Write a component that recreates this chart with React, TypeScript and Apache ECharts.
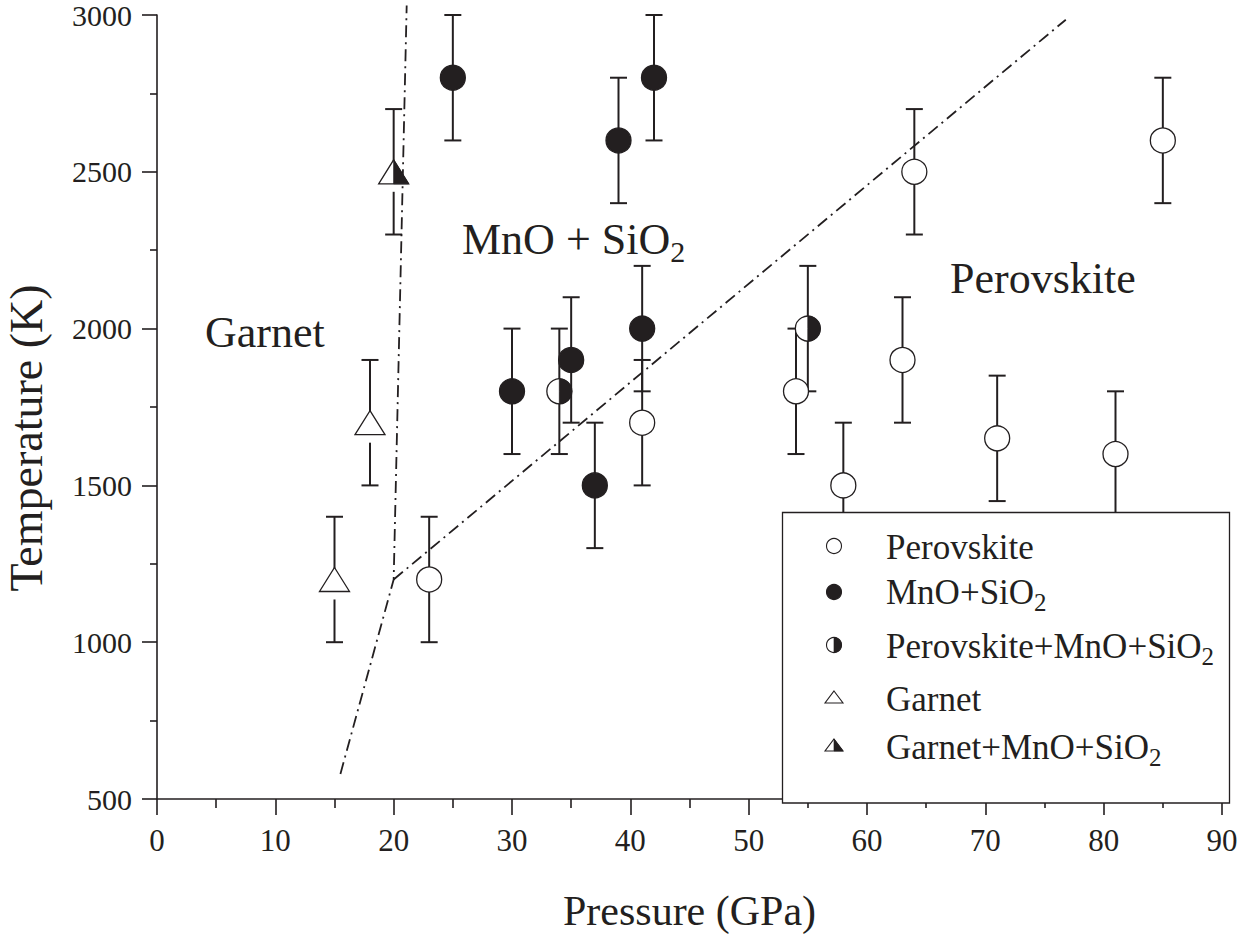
import React, { useEffect, useRef } from 'react';
import * as echarts from 'echarts';

// ---------------- data ----------------
const perovskitePressure = [23, 41, 54, 58, 63, 64, 71, 81, 85];
const perovskiteTemp = [1200, 1700, 1800, 1500, 1900, 2500, 1650, 1600, 2600];
const perovskiteErr = [200, 200, 200, 200, 200, 200, 200, 200, 200];

const mnoPressure = [25, 30, 35, 37, 39, 41, 42];
const mnoTemp = [2800, 1800, 1900, 1500, 2600, 2000, 2800];
const mnoErr = [200, 200, 200, 200, 200, 200, 200];

const mixPressure = [34, 55];
const mixTemp = [1800, 2000];
const mixErr = [200, 200];

const garnetPressure = [15, 18];
const garnetTemp = [1200, 1700];
const garnetErr = [200, 200];

const garnetMixPressure = [20];
const garnetMixTemp = [2500];
const garnetMixErr = [200];

// phase boundaries [pressure, temperature]
const boundaryGarnet = [[15.5, 580], [20, 1200], [21.1, 3030]];
const boundaryPerovskite = [[20, 1200], [76.8, 2985]];

const xTickLabels = ['0', '10', '20', '30', '40', '50', '60', '70', '80', '90'];
const yTickLabels = ['500', '1000', '1500', '2000', '2500', '3000'];

// ---------------- style ----------------
const INK = '#231f20';
const FONT = '"Liberation Serif", "Times New Roman", serif';

const rows = (p: number[], t: number[], e: number[]) => p.map((x, i) => [x, t[i], e[i]]);

type Kind = 'open' | 'filled' | 'half' | 'tri' | 'halftri';

function markerShapes(kind: Kind, cx: number, cy: number, r: number, tw: number, th: number, lw: number, withGap: boolean, z?: number) {
  const stroke = { stroke: INK, lineWidth: lw };
  const zz = z === undefined ? {} : { z };
  const out: any[] = [];
  if (kind === 'open' || kind === 'filled' || kind === 'half') {
    out.push({ type: 'circle', ...zz, shape: { cx, cy, r }, style: { ...stroke, fill: kind === 'filled' ? INK : '#fff' } });
    if (kind === 'half') {
      out.push({
        type: 'sector', ...zz,
        shape: { cx, cy, r, r0: 0, startAngle: -Math.PI / 2, endAngle: Math.PI / 2, clockwise: true },
        style: { fill: INK, stroke: INK, lineWidth: lw * 0.6 },
      });
    }
  } else {
    const top = cy - th / 2;
    const bot = cy + th / 2;
    if (withGap) {
      out.push({ type: 'rect', ...zz, shape: { x: cx - 3, y: bot, width: 6, height: 8 }, style: { fill: '#fff' } });
    }
    out.push({
      type: 'polygon', ...zz,
      shape: { points: [[cx, top], [cx + tw / 2, bot], [cx - tw / 2, bot]] },
      style: { ...stroke, fill: '#fff' },
    });
    if (kind === 'halftri') {
      out.push({
        type: 'polygon', ...zz,
        shape: { points: [[cx, top], [cx + tw / 2, bot], [cx, bot]] },
        style: { fill: INK, stroke: INK, lineWidth: lw * 0.6 },
      });
    }
  }
  return out;
}

function errorSeries(name: string, data: number[][]) {
  return {
    type: 'custom',
    name: name + ' error',
    coordinateSystem: 'cartesian2d',
    z: 2,
    silent: true,
    data,
    encode: { x: 0, y: 1 },
    renderItem: (_p: any, api: any) => {
      const x = api.value(0);
      const y = api.value(1);
      const e = api.value(2);
      const a = api.coord([x, y + e]);
      const b = api.coord([x, y - e]);
      const cap = 8.5;
      const st = { stroke: INK, lineWidth: 2 };
      return {
        type: 'group',
        children: [
          { type: 'line', shape: { x1: a[0], y1: a[1], x2: b[0], y2: b[1] }, style: st },
          { type: 'line', shape: { x1: a[0] - cap, y1: a[1], x2: a[0] + cap, y2: a[1] }, style: st },
          { type: 'line', shape: { x1: b[0] - cap, y1: b[1], x2: b[0] + cap, y2: b[1] }, style: st },
        ],
      };
    },
  };
}

function markerSeries(name: string, data: number[][], kind: Kind) {
  return {
    type: 'custom',
    name,
    coordinateSystem: 'cartesian2d',
    z: 4,
    silent: true,
    data,
    encode: { x: 0, y: 1 },
    renderItem: (_p: any, api: any) => {
      const c = api.coord([api.value(0), api.value(1)]);
      return { type: 'group', children: markerShapes(kind, c[0], c[1], 12.5, 30, 24, 1.3, true) };
    },
  };
}

function boundarySeries(name: string, data: number[][]) {
  return {
    type: 'line',
    name,
    data,
    z: 3,
    clip: false,
    symbol: 'none',
    silent: true,
    lineStyle: { color: INK, width: 1.8, type: [12, 5, 2, 5] },
  };
}

// ---------------- legend (drawn) ----------------
const legendIconX = 834;
const legendTextX = 886;
const legendEntries: { kind: Kind; text: string; iconY: number; baseline: number }[] = [
  { kind: 'open', text: '{m|Perovskite}', iconY: 546, baseline: 558 },
  { kind: 'filled', text: '{m|MnO+SiO}{s|2}', iconY: 592, baseline: 603 },
  { kind: 'half', text: '{m|Perovskite+MnO+SiO}{s|2}', iconY: 645, baseline: 657 },
  { kind: 'tri', text: '{m|Garnet}', iconY: 697, baseline: 710 },
  { kind: 'halftri', text: '{m|Garnet+MnO+SiO}{s|2}', iconY: 745, baseline: 758 },
];

const legendRich = {
  m: { fontSize: 35, lineHeight: 35, fontFamily: FONT, fill: INK, verticalAlign: 'top' },
  s: { fontSize: 25, fontFamily: FONT, fill: INK, verticalAlign: 'bottom', padding: [15, 0, 0, 0] },
};

const annotRich = {
  m: { fontSize: 44, lineHeight: 44, fontFamily: FONT, fill: INK, verticalAlign: 'top' },
  s: { fontSize: 30, fontFamily: FONT, fill: INK, verticalAlign: 'bottom', padding: [19, 0, 0, 0] },
};

function buildGraphic() {
  const g: any[] = [];
  g.push({
    type: 'rect', z: 100,
    shape: { x: 782.5, y: 512.5, width: 447, height: 290.5 },
    style: { fill: '#fff', stroke: INK, lineWidth: 1.3 },
  });
  legendEntries.forEach((en) => {
    markerShapes(en.kind, legendIconX, en.iconY, 7.5, 18, 12, 1.1, false, 101).forEach((s) => g.push(s));
    g.push({
      type: 'text', z: 101,
      style: {
        text: en.text, x: legendTextX, y: en.baseline - 28,
        align: 'left', verticalAlign: 'top', rich: legendRich, fontFamily: FONT, fill: INK,
      },
    });
  });
  // region annotations
  g.push({
    type: 'text', z: 50,
    style: { text: '{m|MnO + SiO}{s|2}', x: 462, y: 253 - 35.4, align: 'left', verticalAlign: 'top', rich: annotRich, fontFamily: FONT, fill: INK },
  });
  g.push({
    type: 'text', z: 50,
    style: { text: 'Perovskite', x: 950, y: 278, align: 'left', verticalAlign: 'middle', fontSize: 44, fontFamily: FONT, fill: INK },
  });
  g.push({
    type: 'text', z: 50,
    style: { text: 'Garnet', x: 205, y: 332, align: 'left', verticalAlign: 'middle', fontSize: 44, fontFamily: FONT, fill: INK },
  });
  // y axis title
  g.push({
    type: 'text', z: 50, x: 26, y: 438, rotation: Math.PI / 2,
    style: { text: 'Temperature (K)', x: 0, y: 0, align: 'center', verticalAlign: 'middle', fontSize: 46, fontFamily: FONT, fill: INK },
  });
  return g;
}

const axisCommon = {
  type: 'value',
  axisLine: { show: true, lineStyle: { color: INK, width: 1.6 } },
  splitLine: { show: false },
  minorSplitLine: { show: false },
};

const option: any = {
  animation: false,
  backgroundColor: '#fff',
  textStyle: { fontFamily: FONT, color: INK },
  grid: { left: 157, top: 15, width: 1065, height: 788, containLabel: false },
  xAxis: {
    ...axisCommon,
    min: 0,
    max: 90,
    interval: 10,
    axisTick: { show: true, inside: false, length: 16, lineStyle: { color: INK, width: 1.6 } },
    minorTick: { show: true, splitNumber: 2, length: 9, lineStyle: { color: INK, width: 1.6 } },
    axisLabel: {
      fontSize: 31, fontFamily: FONT, color: INK, margin: 26,
      formatter: (v: number) => xTickLabels[Math.round(v / 10)] ?? String(v),
    },
    name: 'Pressure (GPa)',
    nameLocation: 'middle',
    nameGap: 112,
    nameTextStyle: { fontSize: 42, fontFamily: FONT, color: INK, verticalAlign: 'middle' },
  },
  yAxis: {
    ...axisCommon,
    min: 500,
    max: 3000,
    interval: 500,
    axisTick: { show: true, inside: false, length: 15, lineStyle: { color: INK, width: 1.6 } },
    minorTick: { show: true, splitNumber: 2, length: 7, lineStyle: { color: INK, width: 1.6 } },
    axisLabel: {
      fontSize: 30, fontFamily: FONT, color: INK, margin: 25,
      formatter: (v: number) => yTickLabels[Math.round((v - 500) / 500)] ?? String(v),
    },
  },
  series: [
    boundarySeries('Garnet boundary', boundaryGarnet),
    boundarySeries('Perovskite boundary', boundaryPerovskite),
    errorSeries('Perovskite', rows(perovskitePressure, perovskiteTemp, perovskiteErr)),
    errorSeries('MnO+SiO2', rows(mnoPressure, mnoTemp, mnoErr)),
    errorSeries('Perovskite+MnO+SiO2', rows(mixPressure, mixTemp, mixErr)),
    errorSeries('Garnet', rows(garnetPressure, garnetTemp, garnetErr)),
    errorSeries('Garnet+MnO+SiO2', rows(garnetMixPressure, garnetMixTemp, garnetMixErr)),
    markerSeries('Perovskite', rows(perovskitePressure, perovskiteTemp, perovskiteErr), 'open'),
    markerSeries('MnO+SiO2', rows(mnoPressure, mnoTemp, mnoErr), 'filled'),
    markerSeries('Perovskite+MnO+SiO2', rows(mixPressure, mixTemp, mixErr), 'half'),
    markerSeries('Garnet', rows(garnetPressure, garnetTemp, garnetErr), 'tri'),
    markerSeries('Garnet+MnO+SiO2', rows(garnetMixPressure, garnetMixTemp, garnetMixErr), 'halftri'),
  ],
  graphic: buildGraphic(),
};

export default function App() {
  const ref = useRef<HTMLDivElement>(null);
  useEffect(() => {
    if (!ref.current) return;
    const chart = echarts.init(ref.current, null, { renderer: 'svg' });
    chart.setOption(option);
    return () => chart.dispose();
  }, []);
  return (
    <div
      ref={ref}
      style={{ position: 'fixed', left: 0, top: 0, width: 1241, height: 937, background: '#fff' }}
    />
  );
}
